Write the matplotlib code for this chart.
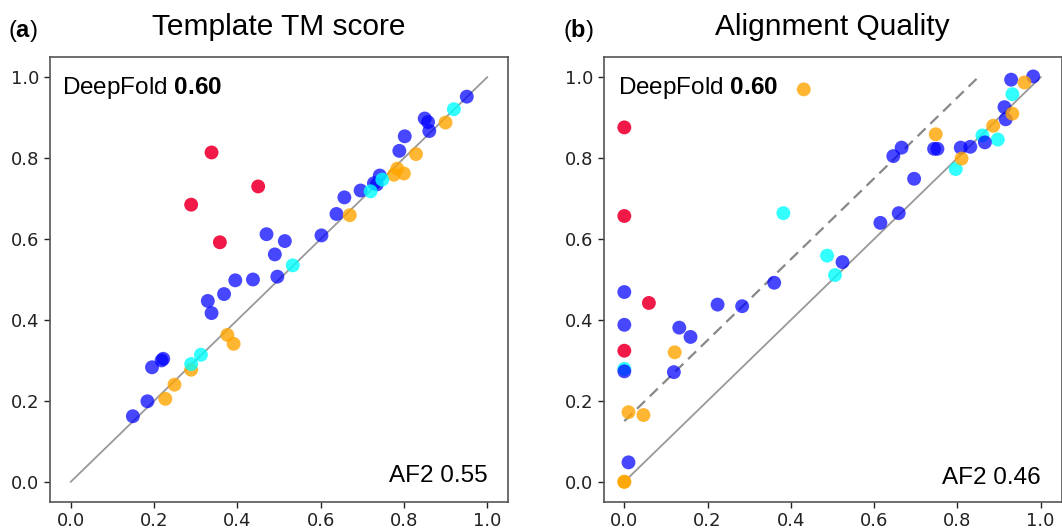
import matplotlib
matplotlib.use("Agg")
import matplotlib.pyplot as plt

# ---------------- data ----------------
# Panel (a): Template TM score  (x = AF2, y = DeepFold)
a_blue_x = [0.149, 0.184, 0.195, 0.218, 0.222, 0.329, 0.338, 0.368, 0.395, 0.4375, 0.470, 0.490,
            0.496, 0.514, 0.602, 0.638, 0.657, 0.696, 0.728, 0.742, 0.735, 0.789, 0.802, 0.850,
            0.858, 0.861, 0.951]
a_blue_y = [0.162, 0.199, 0.283, 0.300, 0.304, 0.447, 0.417, 0.464, 0.498, 0.500, 0.612, 0.562,
            0.507, 0.595, 0.609, 0.662, 0.703, 0.720, 0.738, 0.757, 0.735, 0.818, 0.854, 0.898,
            0.889, 0.867, 0.952]
a_orange_x = [0.227, 0.249, 0.289, 0.376, 0.391, 0.670, 0.776, 0.784, 0.800, 0.829, 0.900]
a_orange_y = [0.205, 0.240, 0.277, 0.363, 0.341, 0.659, 0.759, 0.774, 0.762, 0.810, 0.888]
a_cyan_x = [0.289, 0.3125, 0.533, 0.720, 0.748, 0.920]
a_cyan_y = [0.291, 0.314, 0.535, 0.718, 0.747, 0.921]
a_red_x = [0.338, 0.450, 0.289, 0.358]
a_red_y = [0.814, 0.730, 0.685, 0.592]

# Panel (b): Alignment Quality
b_blue_x = [0.0, 0.0, 0.0, 0.010, 0.119, 0.132, 0.159, 0.224, 0.283, 0.360, 0.524, 0.615,
            0.659, 0.646, 0.666, 0.696, 0.744, 0.752, 0.808, 0.831, 0.866, 0.913, 0.916,
            0.929, 0.982]
b_blue_y = [0.469, 0.388, 0.273, 0.048, 0.271, 0.381, 0.358, 0.438, 0.434, 0.492, 0.543, 0.640,
            0.664, 0.805, 0.826, 0.749, 0.823, 0.823, 0.826, 0.828, 0.839, 0.926, 0.896,
            0.994, 1.002]
b_orange_x = [0.0, 0.0, 0.010, 0.046, 0.121, 0.431, 0.748, 0.810, 0.886, 0.932, 0.961]
b_orange_y = [0.0, 0.0, 0.172, 0.165, 0.320, 0.970, 0.859, 0.799, 0.880, 0.910, 0.987]
b_cyan_x = [0.0, 0.382, 0.487, 0.506, 0.796, 0.860, 0.897, 0.932]
b_cyan_y = [0.279, 0.664, 0.559, 0.511, 0.773, 0.856, 0.846, 0.958]
b_red_x = [0.0, 0.0, 0.0, 0.059]
b_red_y = [0.876, 0.657, 0.324, 0.442]

ticks = [0.0, 0.2, 0.4, 0.6, 0.8, 1.0]
tick_labels = ["0.0", "0.2", "0.4", "0.6", "0.8", "1.0"]
titles = ["Template TM score", "Alignment Quality"]
panel_labels = ["a", "b"]
deepfold_scores = ["0.60", "0.60"]
af2_scores = ["0.55", "0.46"]
offset_line_x = [0.0, 0.85]
offset_line_y = [0.15, 1.0]

# ---------------- figure ----------------
plt.rcParams['mathtext.fontset'] = 'custom'
plt.rcParams['mathtext.rm'] = 'Liberation Sans'
plt.rcParams['mathtext.bf'] = 'Liberation Sans:bold'

W, H = 1062, 529
fig = plt.figure(figsize=(W / 100, H / 100), dpi=100)

ax_a = fig.add_axes([50 / W, 1 - 502 / H, 458 / W, 445 / H])
ax_b = fig.add_axes([603.5 / W, 1 - 502 / H, 458 / W, 445 / H])

BLUE = (0.0, 0.0, 1.0)
ORANGE = (1.0, 0.647, 0.0)
CYAN = (0.0, 1.0, 1.0)
RED = (0.94, 0.0, 0.2)
S = 100

groups = [
    (ax_a, [(a_blue_x, a_blue_y, BLUE, 0.72), (a_orange_x, a_orange_y, ORANGE, 0.8),
            (a_cyan_x, a_cyan_y, CYAN, 0.8), (a_red_x, a_red_y, RED, 0.9)]),
    (ax_b, [(b_cyan_x, b_cyan_y, CYAN, 0.8), (b_blue_x, b_blue_y, BLUE, 0.72),
            (b_orange_x, b_orange_y, ORANGE, 0.8), (b_red_x, b_red_y, RED, 0.9)]),
]

for i, (ax, series) in enumerate(groups):
    ax.plot([0, 1], [0, 1], color='#999999', lw=1.3, zorder=1)
    if i == 1:
        ax.plot(offset_line_x, offset_line_y, color='#888888', lw=1.6,
                dashes=(5, 3), zorder=1)
    for xs, ys, c, al in series:
        ax.scatter(xs, ys, s=S, color=c, alpha=al, edgecolors='none', zorder=2)
    ax.set_xlim(-0.05, 1.05)
    ax.set_ylim(-0.05, 1.05)
    ax.set_xticks(ticks)
    ax.set_xticklabels(tick_labels)
    ax.set_yticks(ticks)
    ax.set_yticklabels(tick_labels)
    ax.tick_params(labelsize=13, colors='#222222', length=4, width=1)
    for sp in ax.spines.values():
        sp.set_color('#555555')
        sp.set_linewidth(1.2)
    ax.set_title(titles[i], fontsize=21.5, family='Liberation Sans', pad=16)
    ax.text(-0.02 if i == 0 else -0.015, 0.958,
            r'DeepFold $\mathbf{' + deepfold_scores[i] + '}$',
            fontsize=17.5, family='Liberation Sans', ha='left', va='baseline')
    ax.text(1.0, 0.0 if i == 0 else -0.005, 'AF2 ' + af2_scores[i],
            fontsize=17.5, family='Liberation Sans', ha='right', va='baseline')

for x_px, lab in zip([8, 563], panel_labels):
    fig.text(x_px / W, 1 - 37 / H, r'($\mathbf{' + lab + r'}$)', fontsize=17,
             family='Liberation Sans', ha='left', va='baseline')

fig.savefig('out.png', dpi=100)
